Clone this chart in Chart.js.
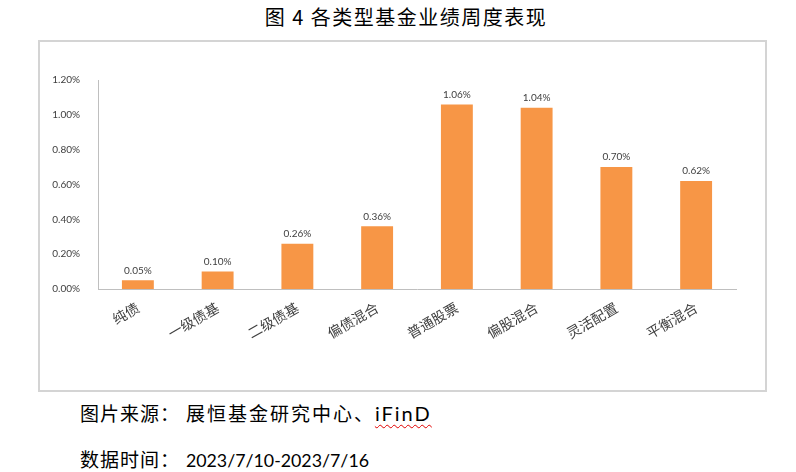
<!DOCTYPE html>
<html>
<head>
<meta charset="utf-8">
<script src="https://cdn.jsdelivr.net/npm/chart.js@4"></script>
<style>
  html, body { margin: 0; padding: 0; background: #fff; width: 796px; height: 472px; overflow: hidden; }
  #title { position: absolute; left: 8px; top: 2px; width: 796px; text-align: center; white-space: nowrap; font-family: "Noto Sans CJK SC", sans-serif; font-size: 20px; color: #000; letter-spacing: 1.5px; }
  #frame { position: absolute; left: 38px; top: 40px; width: 725px; height: 348px; border: 2px solid #d4d4d4; }
  #wrap { position: absolute; left: 40px; top: 42px; width: 725px; height: 348px; }
  .foot { position: absolute; left: 80px; white-space: nowrap; font-family: Lato, "Noto Sans CJK SC", sans-serif; font-size: 19px; color: #000; letter-spacing: 1px; }
  .wide { letter-spacing: 2px; }
  .num { letter-spacing: 0; font-size: 17.8px; }
  .wavy { text-decoration: underline wavy #e00000; text-decoration-thickness: 1px; text-underline-offset: 3px; font-size: 20px; letter-spacing: 2px; }
</style>
</head>
<body>
<div id="title">图&nbsp;4&nbsp;各类型基金业绩周度表现</div>
<div id="frame"></div>
<div id="wrap"><canvas id="c"></canvas></div>
<div class="foot" style="top:399px;">图片来源：&nbsp;<span class="wide">展恒基金研究中心、</span><span class="wavy">iFinD</span></div>
<div class="foot" style="top:445px;">数据时间：&nbsp;<span class="num">2023/7/10-2023/7/16</span></div>
<script>
const categories = ["纯债", "一级债基", "二级债基", "偏债混合", "普通股票", "偏股混合", "灵活配置", "平衡混合"];
const weeklyReturn = [0.05, 0.10, 0.26, 0.36, 1.06, 1.04, 0.70, 0.62];
const yTicks = [0, 0.2, 0.4, 0.6, 0.8, 1.0, 1.2];

const barLabels = {
  id: 'barLabels',
  afterDatasetsDraw(chart) {
    const ctx = chart.ctx;
    const meta = chart.getDatasetMeta(0);
    ctx.save();
    ctx.font = '10px Lato, "Liberation Sans", sans-serif';
    ctx.fillStyle = '#404040';
    ctx.textAlign = 'center';
    ctx.textBaseline = 'middle';
    meta.data.forEach((el, i) => {
      ctx.fillText(weeklyReturn[i].toFixed(2) + '%', el.x, el.y - 10);
    });
    ctx.restore();
  }
};

new Chart(document.getElementById('c'), {
  type: 'bar',
  data: {
    labels: categories,
    datasets: [{
      data: weeklyReturn,
      backgroundColor: '#F79646',
      borderWidth: 0,
      categoryPercentage: 1.0,
      barPercentage: 0.4
    }]
  },
  options: {
    responsive: true,
    maintainAspectRatio: false,
    animation: false,
    layout: { padding: { left: 0, right: 29, top: 38, bottom: 0 } },
    plugins: { legend: { display: false }, tooltip: { enabled: false } },
    scales: {
      x: {
        grid: { display: false },
        border: { display: true, color: '#bfbfbf', width: 1 },
        ticks: {
          maxRotation: 30, minRotation: 30, padding: 2,
          color: '#404040',
          font: { family: '"Noto Sans CJK SC", sans-serif', size: 14 }
        },
        afterFit(scale) { scale.height = 101; }
      },
      y: {
        min: 0, max: 1.2,
        grid: { display: false },
        border: { display: true, color: '#bfbfbf', width: 1 },
        afterBuildTicks(scale) { scale.ticks = yTicks.map(v => ({ value: v })); },
        ticks: {
          color: '#404040', padding: 10,
          font: { family: 'Lato, "Liberation Sans", sans-serif', size: 10 },
          callback: v => Number(v).toFixed(2) + '%'
        },
        afterFit(scale) { scale.width = 58; }
      }
    }
  },
  plugins: [barLabels]
});
</script>
</body>
</html>
